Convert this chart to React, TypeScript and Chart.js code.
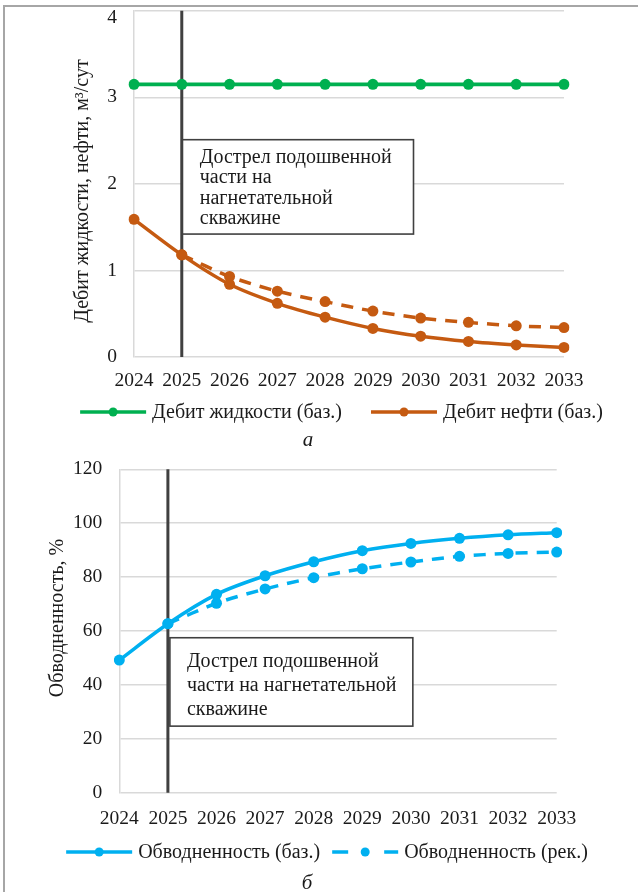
import React, { useEffect, useRef } from 'react';
import { Chart, registerables } from 'chart.js';

Chart.register(...registerables);

// ---------- data ----------
const years = ['2024', '2025', '2026', '2027', '2028', '2029', '2030', '2031', '2032', '2033'];
const liquidBase = [3.15, 3.15, 3.15, 3.15, 3.15, 3.15, 3.15, 3.15, 3.15, 3.15];
const oilBase = [1.59, 1.18, 0.84, 0.62, 0.46, 0.33, 0.24, 0.18, 0.14, 0.11];
const oilRec = [null, 1.18, 0.93, 0.76, 0.64, 0.53, 0.45, 0.4, 0.36, 0.34];
const wcBase = [49.2, 62.7, 73.6, 80.5, 85.7, 89.8, 92.5, 94.4, 95.7, 96.5];
const wcRec = [null, 62.7, 70.3, 75.6, 79.8, 83.1, 85.6, 87.7, 88.8, 89.3];
const topYTicks = [0, 1, 2, 3, 4];
const bottomYTicks = [0, 20, 40, 60, 80, 100, 120];
const eventYearIndex = 1; // 2025
const topNoteLines = ['Дострел подошвенной', 'части на', 'нагнетательной', 'скважине'];
const bottomNoteLines = ['Дострел подошвенной', 'части на нагнетательной', 'скважине'];

const FONT = "'Liberation Serif', 'Times New Roman', serif";
const GREEN = '#00B050';
const ORANGE = '#C55A11';
const BLUE = '#00B0F0';
const DARK = '#404040';
const GRID = '#d9d9d9';
const TEXT = '#1a1a1a';
const TICK_SIZE = 19.5;

const decorPlugin = {
  id: 'decor',
  beforeDatasetsDraw(chart: any, _a: any, o: any) {
    const { ctx, chartArea, scales } = chart;
    const x = scales.x;
    const y = scales.y;
    const lx = x.getPixelForValue(o.lineIndex);
    ctx.save();
    // note box
    const bl = lx + o.box.dx;
    const br = x.getPixelForValue(o.box.xEnd);
    const bt = y.getPixelForValue(o.box.yTop);
    const bb = y.getPixelForValue(o.box.yBottom);
    ctx.fillStyle = '#ffffff';
    ctx.fillRect(bl, bt, br - bl, bb - bt);
    ctx.strokeStyle = DARK;
    ctx.lineWidth = 1.6;
    ctx.strokeRect(bl, bt, br - bl, bb - bt);
    ctx.fillStyle = TEXT;
    ctx.font = `${o.box.fontSize}px ${FONT}`;
    ctx.textAlign = 'left';
    ctx.textBaseline = 'alphabetic';
    o.box.lines.forEach((t: string, i: number) => {
      ctx.fillText(t, lx + o.box.textDx, bt + o.box.firstBaseline + i * o.box.lineHeight);
    });
    // vertical event line
    ctx.strokeStyle = DARK;
    ctx.lineWidth = 3;
    ctx.beginPath();
    ctx.moveTo(lx, chartArea.top);
    ctx.lineTo(lx, chartArea.bottom);
    ctx.stroke();
    ctx.restore();
  },
  afterDraw(chart: any, _a: any, o: any) {
    const { ctx } = chart;
    ctx.save();
    // axis title
    ctx.fillStyle = TEXT;
    ctx.font = `20px ${FONT}`;
    ctx.textAlign = 'center';
    ctx.textBaseline = 'middle';
    ctx.translate(o.title.x, o.title.y);
    ctx.rotate(-Math.PI / 2);
    ctx.fillText(o.title.text, 0, 0);
    ctx.restore();

    // legend
    ctx.save();
    ctx.font = `20px ${FONT}`;
    const sampleW = 66;
    const gap = 6;
    const widths = o.legend.items.map((it: any) => sampleW + gap + ctx.measureText(it.label).width);
    const total = widths.reduce((a: number, b: number) => a + b, 0) + o.legend.itemGap * (widths.length - 1);
    let cx = o.legend.centerX - total / 2;
    const ly = o.legend.y;
    o.legend.items.forEach((it: any, i: number) => {
      ctx.strokeStyle = it.color;
      ctx.fillStyle = it.color;
      ctx.lineWidth = 3.5;
      ctx.lineCap = 'butt';
      ctx.beginPath();
      if (it.dashed) {
        ctx.moveTo(cx, ly); ctx.lineTo(cx + 16, ly);
        ctx.moveTo(cx + 52, ly); ctx.lineTo(cx + sampleW, ly);
      } else {
        ctx.moveTo(cx, ly); ctx.lineTo(cx + sampleW, ly);
      }
      ctx.stroke();
      ctx.beginPath();
      ctx.arc(cx + sampleW / 2, ly, 4.5, 0, Math.PI * 2);
      ctx.fill();
      ctx.fillStyle = TEXT;
      ctx.textAlign = 'left';
      ctx.textBaseline = 'middle';
      ctx.fillText(it.label, cx + sampleW + gap, ly + 1);
      cx += widths[i] + o.legend.itemGap;
    });
    // caption
    ctx.font = `italic 21px ${FONT}`;
    ctx.textAlign = 'center';
    ctx.textBaseline = 'alphabetic';
    ctx.fillStyle = TEXT;
    ctx.fillText(o.caption.text, o.caption.x, o.caption.y);
    ctx.restore();
  },
};

function lineDs(label: string, data: (number | null)[], color: string, dashed: boolean, width = 3.5) {
  return {
    label,
    data,
    borderColor: color,
    backgroundColor: color,
    borderWidth: width,
    borderDash: dashed ? [12, 9] : [],
    pointRadius: 5.5,
    pointHoverRadius: 5.5,
    pointBorderWidth: 0,
    pointBackgroundColor: color,
    tension: 0.3,
    spanGaps: true,
    fill: false,
  };
}

function makeConfig(p: any) {
  const yMax = p.yTicks[p.yTicks.length - 1];
  return {
    type: 'line',
    data: { labels: years, datasets: p.datasets },
    plugins: [decorPlugin],
    options: {
      animation: false,
      responsive: false,
      maintainAspectRatio: false,
      events: [],
      layout: { padding: { left: 0, top: p.padTop, right: p.padRight, bottom: 0 } },
      plugins: {
        legend: { display: false },
        tooltip: { enabled: false },
        decor: p.decor,
      },
      scales: {
        x: {
          type: 'category',
          offset: false,
          grid: { display: false, drawTicks: false },
          border: { display: false },
          ticks: { padding: p.xTickPad, color: TEXT, font: { family: FONT, size: TICK_SIZE }, maxRotation: 0, autoSkip: false },
          afterFit: (s: any) => { s.height = p.xHeight; s.paddingLeft = 0; s.paddingRight = 0; },
        },
        y: {
          min: p.yTicks[0],
          max: yMax,
          grid: { color: GRID, lineWidth: 1.5, drawTicks: false },
          border: { display: true, color: GRID, width: 1.5 },
          ticks: {
            padding: 17,
            color: TEXT,
            // top label pushed inside the plot like the original (when requested)
            callback: (v: any) => (p.pushTopLabel && v === yMax ? ['', String(v)] : String(v)),
            font: (c: any) => ({
              family: FONT,
              size: TICK_SIZE,
              lineHeight: p.pushTopLabel && c.tick && c.tick.value === yMax ? 0.72 : 1.2,
            }),
          },
          afterBuildTicks: (s: any) => { s.ticks = p.yTicks.map((v: number) => ({ value: v })); },
          afterFit: (s: any) => { s.width = p.yWidth; s.paddingTop = 0; s.paddingBottom = 0; },
        },
      },
    },
  };
}

export default function App() {
  const topRef = useRef<HTMLCanvasElement>(null);
  const botRef = useRef<HTMLCanvasElement>(null);

  useEffect(() => {
    const top = new Chart(topRef.current as HTMLCanvasElement, makeConfig({
      datasets: [
        lineDs('Дебит жидкости (баз.)', liquidBase, GREEN, false, 3.8),
        lineDs('Дебит нефти (баз.)', oilBase, ORANGE, false),
        lineDs('Дебит нефти (рек.)', oilRec, ORANGE, true),
      ],
      yTicks: topYTicks,
      pushTopLabel: true,
      padTop: 10.7,
      padRight: 74,
      yWidth: 134,
      xHeight: 95,
      xTickPad: 12,
      decor: {
        lineIndex: eventYearIndex,
        box: { xEnd: 5.85, yTop: 2.51, yBottom: 1.42, dx: 0, textDx: 18, fontSize: 20, firstBaseline: 23, lineHeight: 20.5, lines: topNoteLines },
        title: { text: 'Дебит жидкости, нефти, м³/сут', x: 83, y: 191 },
        legend: {
          centerX: 341.5, y: 412, itemGap: 29,
          items: [
            { label: 'Дебит жидкости (баз.)', color: GREEN, dashed: false },
            { label: 'Дебит нефти (баз.)', color: ORANGE, dashed: false },
          ],
        },
        caption: { text: 'а', x: 308, y: 446 },
      },
    }) as any);

    const bottom = new Chart(botRef.current as HTMLCanvasElement, makeConfig({
      datasets: [
        lineDs('Обводненность (баз.)', wcBase, BLUE, false),
        lineDs('Обводненность (рек.)', wcRec, BLUE, true),
      ],
      yTicks: bottomYTicks,
      pushTopLabel: false,
      padTop: 17.3,
      padRight: 81.3,
      yWidth: 119.3,
      xHeight: 99.3,
      xTickPad: 14,
      decor: {
        lineIndex: eventYearIndex,
        box: { xEnd: 6.04, yTop: 57.5, yBottom: 24.7, dx: 2, textDx: 19, fontSize: 20, firstBaseline: 29, lineHeight: 24, lines: bottomNoteLines },
        title: { text: 'Обводненность, %', x: 58, y: 166 },
        legend: {
          centerX: 327, y: 400, itemGap: 12,
          items: [
            { label: 'Обводненность (баз.)', color: BLUE, dashed: false },
            { label: 'Обводненность (рек.)', color: BLUE, dashed: true },
          ],
        },
        caption: { text: 'б', x: 307, y: 437 },
      },
    }) as any);

    return () => {
      top.destroy();
      bottom.destroy();
    };
  }, []);

  return (
    <div style={{ position: 'absolute', left: 0, top: 0, width: 638, height: 892, background: '#fff', overflow: 'hidden' }}>
      <div style={{ position: 'absolute', left: 3, top: 5, width: 640, height: 900, borderTop: '2px solid #a6a6a6', borderLeft: '2px solid #a6a6a6' }} />
      <canvas ref={topRef} width={638} height={452} style={{ position: 'absolute', left: 0, top: 0, width: 638, height: 452 }} />
      <canvas ref={botRef} width={638} height={440} style={{ position: 'absolute', left: 0, top: 452, width: 638, height: 440 }} />
    </div>
  );
}
